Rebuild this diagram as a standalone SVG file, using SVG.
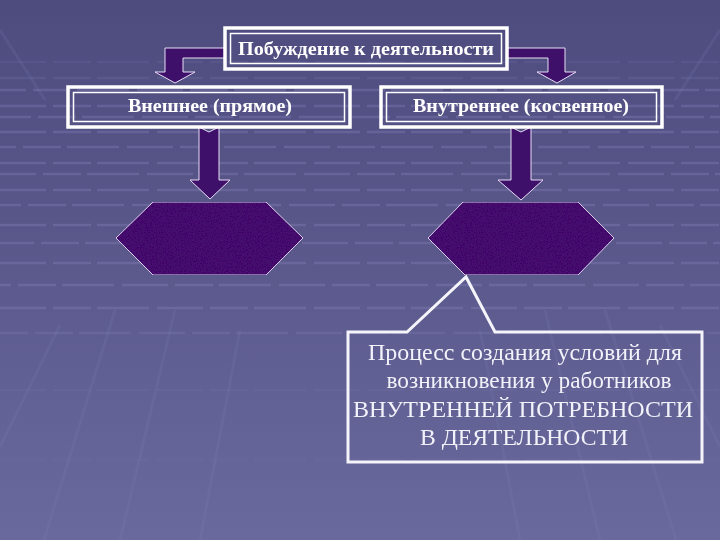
<svg xmlns="http://www.w3.org/2000/svg" width="720" height="540" viewBox="0 0 720 540">
  <defs>
    <linearGradient id="bg" x1="0" y1="0" x2="0" y2="1">
      <stop offset="0" stop-color="#4e4c7f"/>
      <stop offset="0.45" stop-color="#5a588b"/>
      <stop offset="1" stop-color="#6a699d"/>
    </linearGradient>
    <filter id="grain" x="0" y="0" width="1" height="1">
      <feTurbulence type="fractalNoise" baseFrequency="0.8" numOctaves="2" seed="3" result="n"/>
      <feColorMatrix in="n" type="matrix" values="0 0 0 0 0.15  0 0 0 0 0.02  0 0 0 0 0.3  0 0 0 0.5 -0.1" result="c"/>
      <feComposite in="c" in2="SourceGraphic" operator="in" result="t"/>
      <feMerge><feMergeNode in="SourceGraphic"/><feMergeNode in="t"/></feMerge>
    </filter>
  </defs>
  <style>
    .grid { stroke: #8d8bc4; stroke-width: 2.5; fill: none; stroke-dasharray: 46 7 38 6 52 8; }
    .diag { stroke: #8584bb; stroke-width: 3; fill: none; opacity: 0.15; }
    .outer { fill: none; stroke: #ffffff; stroke-width: 3.5; }
    .inner { fill: none; stroke: #ffffff; stroke-width: 1.5; }
    .lbl { font-family: "Liberation Serif", "DejaVu Serif", serif; font-weight: bold; font-size: 18px; fill: #ffffff; text-anchor: middle; }
    .body { font-family: "Liberation Serif", "DejaVu Serif", serif; font-size: 24px; fill: #f2f2fa; text-anchor: middle; }
    .shape { fill: #3b0e64; stroke: #e6dcf5; stroke-width: 1; }
    .arrow { fill: #3e1069; stroke: #e6dcf5; stroke-width: 1; }
    .callout { fill: none; stroke: #f4f4fa; stroke-width: 3; stroke-linejoin: miter; }
  </style>

  <g id="background">
    <rect x="0" y="0" width="720" height="540" fill="url(#bg)"/>
    <g opacity="0.3">
      <line class="grid" x1="0" y1="62" x2="720" y2="62" opacity="0.4"/>
      <line class="grid" x1="0" y1="78" x2="720" y2="78" opacity="0.5"/>
      <line class="grid" x1="0" y1="90" x2="720" y2="90" stroke-dashoffset="20"/>
      <line class="grid" x1="0" y1="106" x2="720" y2="106"/>
      <line class="grid" x1="0" y1="117" x2="720" y2="117" stroke-dashoffset="15"/>
      <line class="grid" x1="0" y1="132" x2="720" y2="132"/>
      <line class="grid" x1="0" y1="147" x2="720" y2="147" stroke-dashoffset="30"/>
      <line class="grid" x1="0" y1="163" x2="720" y2="163"/>
      <line class="grid" x1="0" y1="174" x2="720" y2="174" stroke-dashoffset="10"/>
      <line class="grid" x1="0" y1="190" x2="720" y2="190"/>
      <line class="grid" x1="0" y1="205" x2="720" y2="205" stroke-dashoffset="25"/>
      <line class="grid" x1="0" y1="225" x2="720" y2="225"/>
      <line class="grid" x1="0" y1="243" x2="720" y2="243" stroke-dashoffset="12"/>
      <line class="grid" x1="0" y1="263" x2="720" y2="263"/>
      <line class="grid" x1="0" y1="285" x2="720" y2="285" stroke-dashoffset="35"/>
      <line class="grid" x1="0" y1="308" x2="720" y2="308"/>
      <line class="grid" x1="0" y1="333" x2="720" y2="333" stroke-dashoffset="18" opacity="0.7"/>
      <line class="grid" x1="0" y1="390" x2="720" y2="390" opacity="0.35" stroke-dasharray="120 10"/>
      <line class="grid" x1="0" y1="460" x2="720" y2="460" opacity="0.3" stroke-dasharray="140 12"/>
    </g>
    <line class="diag" x1="60" y1="325" x2="0" y2="447"/>
    <line class="diag" x1="115" y1="310" x2="44" y2="540"/>
    <line class="diag" x1="175" y1="310" x2="120" y2="540"/>
    <line class="diag" x1="240" y1="330" x2="200" y2="540"/>
    <line class="diag" x1="660" y1="325" x2="720" y2="447"/>
    <line class="diag" x1="605" y1="310" x2="676" y2="540"/>
    <line class="diag" x1="545" y1="310" x2="600" y2="540"/>
    <line class="diag" x1="480" y1="330" x2="520" y2="540"/>
    <line class="diag" x1="0" y1="30" x2="45" y2="100"/>
    <line class="diag" x1="720" y1="30" x2="675" y2="100"/>
  </g>

  <g id="connectors">
    <polygon class="arrow" points="225,48 165,48 165,72 155,72 175,83 195,72 183,72 183,58 225,58"/>
    <polygon class="arrow" points="507,48 565,48 565,72 576,72 557,83 537,72 548,72 548,58 507,58"/>
    <polygon class="arrow" points="199,127 209,132 219,127 219,180 230,180 210,199 190,180 199,180"/>
    <polygon class="arrow" points="511,127 521,132 531,127 531,180 543,180 521,200 498,180 511,180"/>
  </g>

  <g id="node-top">
    <rect class="outer" x="225" y="28" width="282" height="41"/>
    <rect class="inner" x="230.5" y="33.5" width="271" height="30"/>
    <text class="lbl" x="366" y="55" textLength="256" lengthAdjust="spacingAndGlyphs">Побуждение к деятельности</text>
  </g>

  <g id="node-external">
    <rect class="outer" x="68" y="87" width="282" height="40"/>
    <rect class="inner" x="73.5" y="92.5" width="271" height="29"/>
    <text class="lbl" x="210" y="112" textLength="164" lengthAdjust="spacingAndGlyphs">Внешнее (прямое)</text>
  </g>

  <g id="node-internal">
    <rect class="outer" x="381" y="87" width="281" height="40"/>
    <rect class="inner" x="386.5" y="92.5" width="270" height="29"/>
    <text class="lbl" x="521" y="112" textLength="216" lengthAdjust="spacingAndGlyphs">Внутреннее (косвенное)</text>
  </g>

  <g id="node-hex-left">
    <polygon class="shape" filter="url(#grain)" points="116,238 153,202 266,202 303,238 266,275 153,275"/>
  </g>

  <g id="node-hex-right">
    <polygon class="shape" filter="url(#grain)" points="428,238 463,202 578,202 614,238 578,275 465,275"/>
  </g>

  <g id="node-callout">
    <path class="callout" d="M348,332 L407,332 L466,277 L495,332 L702,332 L702,462 L348,462 Z"/>
    <text class="body" x="525" y="360" textLength="314" lengthAdjust="spacingAndGlyphs">Процесс создания условий для</text>
    <text class="body" x="529" y="388" textLength="285" lengthAdjust="spacingAndGlyphs">возникновения у работников</text>
    <text class="body" x="523" y="417" textLength="340" lengthAdjust="spacingAndGlyphs">ВНУТРЕННЕЙ ПОТРЕБНОСТИ</text>
    <text class="body" x="524" y="445" textLength="208" lengthAdjust="spacingAndGlyphs">В ДЕЯТЕЛЬНОСТИ</text>
  </g>
</svg>
